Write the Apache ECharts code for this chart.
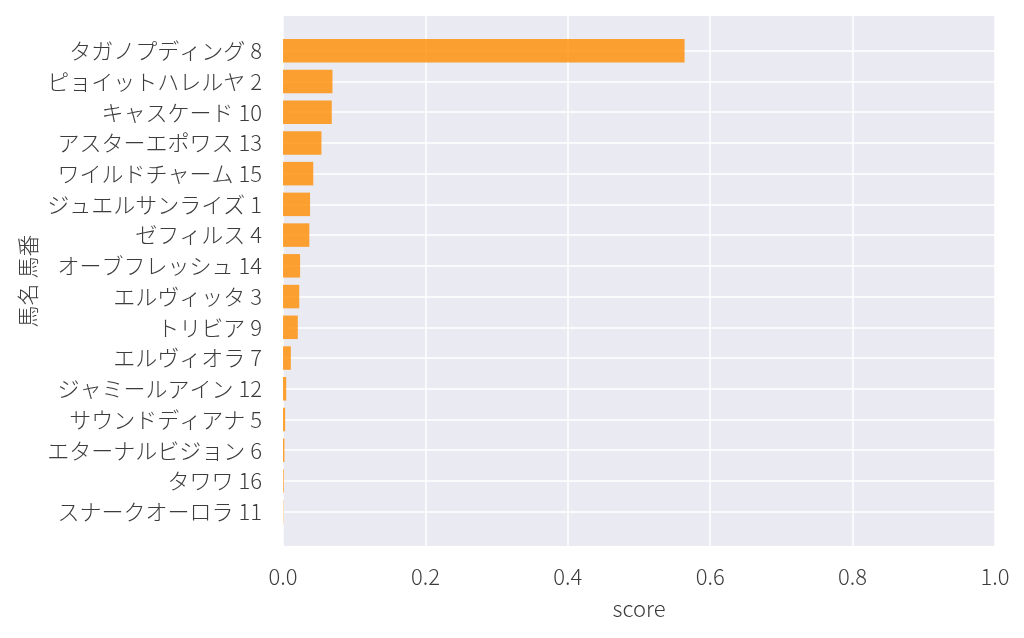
<!DOCTYPE html>
<html>
<head>
<meta charset="utf-8">
<script src="https://cdn.jsdelivr.net/npm/echarts@6/dist/echarts.min.js"></script>
<style>
html,body{margin:0;padding:0;background:#fff;}
#c{width:1024px;height:638px;}
</style>
</head>
<body>
<div id="c"></div>
<script>
const categories = [
  'タガノプディング 8','ピョイットハレルヤ 2','キャスケード 10','アスターエポワス 13',
  'ワイルドチャーム 15','ジュエルサンライズ 1','ゼフィルス 4','オーブフレッシュ 14',
  'エルヴィッタ 3','トリビア 9','エルヴィオラ 7','ジャミールアイン 12',
  'サウンドディアナ 5','エターナルビジョン 6','タワワ 16','スナークオーロラ 11'
];
const scores = [0.564, 0.0695, 0.0685, 0.054, 0.0425, 0.038, 0.037, 0.024,
                0.0228, 0.0208, 0.011, 0.0045, 0.003, 0.002, 0.001, 0.0004];
const xTicks = [0, 0.2, 0.4, 0.6, 0.8, 1.0];
const xName = 'score';
const yName = '馬名 馬番';

const FONT = '"Noto Sans CJK JP", "Noto Sans", sans-serif';
const TXT = '#3c3c3c';
const FS = 22;

const chart = echarts.init(document.getElementById('c'), null, {renderer: 'canvas'});
chart.setOption({
  animation: false,
  textStyle: {fontFamily: FONT},
  grid: [
    {left: 283, right: 29, top: 16, bottom: 92, show: true, backgroundColor: '#EAEAF2', borderWidth: 0},
    {left: 283, right: 29, top: 50.7, bottom: 126.3}
  ],
  xAxis: [
    {
      type: 'value', gridIndex: 0, min: xTicks[0], max: xTicks[xTicks.length - 1], interval: 0.2,
      name: xName, nameLocation: 'middle', nameGap: 52,
      nameTextStyle: {fontSize: FS, color: TXT, fontFamily: FONT, fontWeight: 300},
      axisLine: {show: false}, axisTick: {show: false},
      axisLabel: {fontSize: FS, color: TXT, margin: 20, fontFamily: FONT, fontWeight: 300,
        formatter: v => v.toFixed(1)},
      splitLine: {show: true, lineStyle: {color: '#ffffff', width: 1.5}}
    },
    {
      type: 'value', gridIndex: 1, min: 0, max: 1, show: false
    }
  ],
  yAxis: [
    {
      type: 'value', gridIndex: 0, min: 0, max: 1,
      name: yName, nameLocation: 'middle', nameGap: 244,
      nameTextStyle: {fontSize: FS, color: TXT, fontFamily: FONT, fontWeight: 300},
      axisLine: {show: false}, axisTick: {show: false}, axisLabel: {show: false},
      splitLine: {show: false}
    },
    {
      type: 'category', gridIndex: 1, data: categories, inverse: true, boundaryGap: false,
      axisLine: {show: false}, axisTick: {show: false},
      axisLabel: {fontSize: FS, color: TXT, margin: 21, fontFamily: FONT, fontWeight: 300},
      splitLine: {show: true, lineStyle: {color: '#ffffff', width: 1.5}}
    }
  ],
  series: [{
    type: 'bar', xAxisIndex: 1, yAxisIndex: 1, data: scores, barWidth: 23.5, clip: false,
    itemStyle: {color: 'rgba(255,140,0,0.8)'}
  }]
});
</script>
</body>
</html>
